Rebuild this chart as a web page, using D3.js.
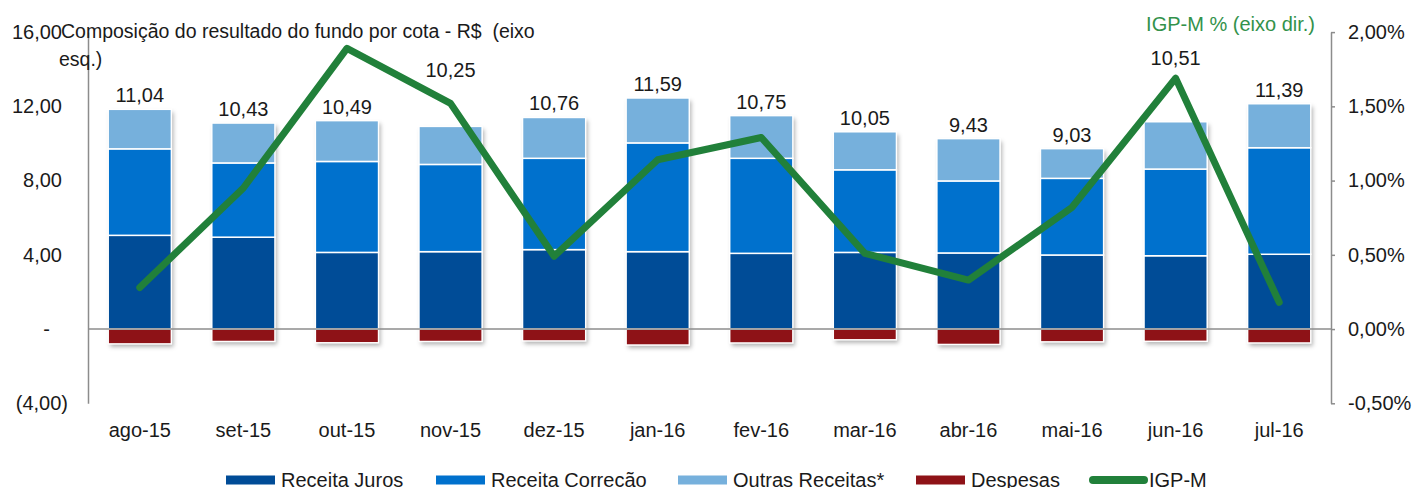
<!DOCTYPE html>
<html>
<head>
<meta charset="utf-8">
<script src="https://cdn.jsdelivr.net/npm/d3@7"></script>
<style>
  html, body { margin: 0; padding: 0; background: #fff; }
  svg { display: block; font-family: "Liberation Sans", Arial, sans-serif; }
</style>
</head>
<body>
<svg id="chart" width="1416" height="488"></svg>
<script>
// ---- data ----
const categories = ["ago-15","set-15","out-15","nov-15","dez-15","jan-16","fev-16","mar-16","abr-16","mai-16","jun-16","jul-16"];
const receitaJuros    = [5.05, 4.95, 4.13, 4.17, 4.28, 4.17, 4.08, 4.13, 4.10, 3.99, 3.95, 4.03];
const receitaCorrecao = [4.66, 4.00, 4.90, 4.70, 4.92, 5.86, 5.12, 4.45, 3.88, 4.13, 4.67, 5.74];
const outrasReceitas  = [2.13, 2.15, 2.20, 2.05, 2.20, 2.42, 2.30, 2.05, 2.28, 1.60, 2.55, 2.37];
const despesas        = [-0.80, -0.67, -0.74, -0.67, -0.64, -0.86, -0.75, -0.58, -0.83, -0.69, -0.66, -0.75];
const totalLabels     = [11.04, 10.43, 10.49, 10.25, 10.76, 11.59, 10.75, 10.05, 9.43, 9.03, 10.51, 11.39];
const igpm            = [0.28, 0.95, 1.89, 1.52, 0.49, 1.14, 1.29, 0.51, 0.33, 0.82, 1.69, 0.18];
const leftTicks  = [-4, 0, 4, 8, 12, 16];
const rightTicks = [-0.5, 0, 0.5, 1.0, 1.5, 2.0];
const seriesNames = ["Receita Juros", "Receita Correcão", "Outras Receitas*", "Despesas", "IGP-M"];
const titleLeftLines = ["Composição do resultado do fundo por cota - R$  (eixo", "esq.)"];
const titleRight = "IGP-M % (eixo dir.)";

// ---- styles ----
const colors = {
  juros: "#004C97",
  correcao: "#0071CD",
  outras: "#76B0DC",
  despesas: "#8E1217",
  igpm: "#21803A",
  igpmText: "#33924B",
  axis: "#8C8C8C",
  text: "#1A1A1A"
};
const FS = 20;
// labels moved above the IGP-M line (pixels of extra lift)
const labelLift = { "nov-15": 42, "jun-16": 50 };

const svg = d3.select("#chart");
const defs = svg.append("defs");
const f = defs.append("filter").attr("id", "shadow").attr("x", "-20%").attr("y", "-20%").attr("width", "150%").attr("height", "150%");
f.append("feDropShadow").attr("dx", 2).attr("dy", 3).attr("stdDeviation", 2).attr("flood-color", "#000").attr("flood-opacity", 0.3);

const xLeft = 88, xRight = 1331;
const x = d3.scaleBand().domain(categories).range([xLeft, xRight]).paddingInner(0.39).paddingOuter(0.195);
const y = d3.scaleLinear().domain([-4, 16]).range([403.3, 32.1]);
const y2 = d3.scaleLinear().domain([-0.5, 2.0]).range([403.3, 32.1]);

const fmt = v => d3.format(".2f")(Math.abs(v)).replace(".", ",");

// ---- axes ----
const gL = svg.append("g").attr("transform", `translate(${xLeft},0)`)
  .call(d3.axisLeft(y).tickValues(leftTicks).tickSize(0).tickPadding(26)
    .tickFormat(v => v === 0 ? "-" : (v < 0 ? "(" + fmt(v) + ")" : fmt(v))));
gL.select(".domain").attr("stroke", colors.axis).attr("stroke-width", 1.5);
gL.selectAll("text").attr("font-size", FS).attr("fill", colors.text)
  .attr("font-family", "Liberation Sans, Arial, sans-serif")
  .attr("dx", d => d === 0 ? -12 : (d < 0 ? 6 : 0));

const gR = svg.append("g").attr("transform", `translate(${xRight},0)`)
  .call(d3.axisRight(y2).tickValues(rightTicks).tickSize(4).tickSizeOuter(0).tickPadding(13)
    .tickFormat(v => (v < 0 ? "-" : "") + fmt(v) + "%"));
gR.select(".domain").attr("stroke", colors.axis).attr("stroke-width", 1.5);
gR.selectAll(".tick line").attr("stroke", colors.axis).attr("stroke-width", 1.5);
gR.selectAll("text").attr("font-size", FS).attr("fill", colors.text)
  .attr("font-family", "Liberation Sans, Arial, sans-serif");

// ---- bars ----
const rows = categories.map((c, i) => ({
  cat: c,
  segs: [
    { y0: 0, y1: receitaJuros[i], color: colors.juros },
    { y0: receitaJuros[i], y1: receitaJuros[i] + receitaCorrecao[i], color: colors.correcao },
    { y0: receitaJuros[i] + receitaCorrecao[i], y1: receitaJuros[i] + receitaCorrecao[i] + outrasReceitas[i], color: colors.outras },
    { y0: despesas[i], y1: 0, color: colors.despesas }
  ],
  top: receitaJuros[i] + receitaCorrecao[i] + outrasReceitas[i],
  label: totalLabels[i]
}));

const barG = svg.append("g");
const bg = barG.selectAll("g.bar").data(rows).enter().append("g").attr("class", "bar");
bg.append("rect")
  .attr("x", d => x(d.cat)).attr("width", x.bandwidth())
  .attr("y", d => y(d.top)).attr("height", d => y(d3.min(d.segs, s => s.y0)) - y(d.top))
  .attr("fill", "#fff").attr("filter", "url(#shadow)");
bg.selectAll("rect.seg").data(d => d.segs.map(s => ({ ...s, cat: d.cat }))).enter().append("rect")
  .attr("class", "seg")
  .attr("x", d => x(d.cat)).attr("width", x.bandwidth())
  .attr("y", d => y(d.y1)).attr("height", d => y(d.y0) - y(d.y1))
  .attr("fill", d => d.color).attr("stroke", "#fff").attr("stroke-width", 1.5);

// zero line
svg.append("line").attr("x1", xLeft).attr("x2", xRight).attr("y1", y(0)).attr("y2", y(0))
  .attr("stroke", colors.axis).attr("stroke-width", 1.5);

// value labels
svg.append("g").selectAll("text").data(rows).enter().append("text")
  .attr("x", d => x(d.cat) + x.bandwidth() / 2).attr("y", d => y(d.top) - 7 - (labelLift[d.cat] || 0))
  .attr("text-anchor", "middle").attr("font-size", FS).attr("fill", colors.text)
  .text(d => fmt(d.label));

// IGP-M line
const line = d3.line().x((d, i) => x(categories[i]) + x.bandwidth() / 2).y(d => y2(d));
svg.append("path").datum(igpm).attr("d", line)
  .attr("fill", "none").attr("stroke", colors.igpm).attr("stroke-width", 7)
  .attr("stroke-linejoin", "round").attr("stroke-linecap", "round");

// category labels
svg.append("g").selectAll("text").data(categories).enter().append("text")
  .attr("x", d => x(d) + x.bandwidth() / 2).attr("y", 437)
  .attr("text-anchor", "middle").attr("font-size", FS).attr("fill", colors.text)
  .text(d => d);

// titles
svg.append("text").attr("x", 61).attr("y", 38).attr("font-size", 19.5).attr("fill", colors.text)
  .style("white-space", "pre")
  .selectAll("tspan").data(titleLeftLines).enter().append("tspan")
  .attr("x", (d, i) => i === 0 ? 61 : 59).attr("dy", (d, i) => i === 0 ? 0 : 28).text(d => d);
svg.append("text").attr("x", 1315).attr("y", 31).attr("text-anchor", "end")
  .attr("font-size", FS).attr("fill", colors.igpmText).text(titleRight);

// legend
const legendItems = [
  { name: seriesNames[0], color: colors.juros, type: "rect", x: 226 },
  { name: seriesNames[1], color: colors.correcao, type: "rect", x: 436 },
  { name: seriesNames[2], color: colors.outras, type: "rect", x: 678 },
  { name: seriesNames[3], color: colors.despesas, type: "rect", x: 916 },
  { name: seriesNames[4], color: colors.igpm, type: "line", x: 1090 }
];
const lg = svg.append("g").selectAll("g").data(legendItems).enter().append("g");
lg.filter(d => d.type === "rect").append("rect")
  .attr("x", d => d.x).attr("y", 475.5).attr("width", 49).attr("height", 9).attr("fill", d => d.color);
lg.filter(d => d.type === "line").append("line")
  .attr("x1", d => d.x + 3).attr("x2", d => d.x + 54).attr("y1", 480).attr("y2", 480)
  .attr("stroke", d => d.color).attr("stroke-width", 8).attr("stroke-linecap", "round");
lg.append("text").attr("x", d => d.x + (d.type === "line" ? 59 : 55)).attr("y", 487)
  .attr("font-size", FS).attr("fill", colors.text).text(d => d.name);
</script>
</body>
</html>
